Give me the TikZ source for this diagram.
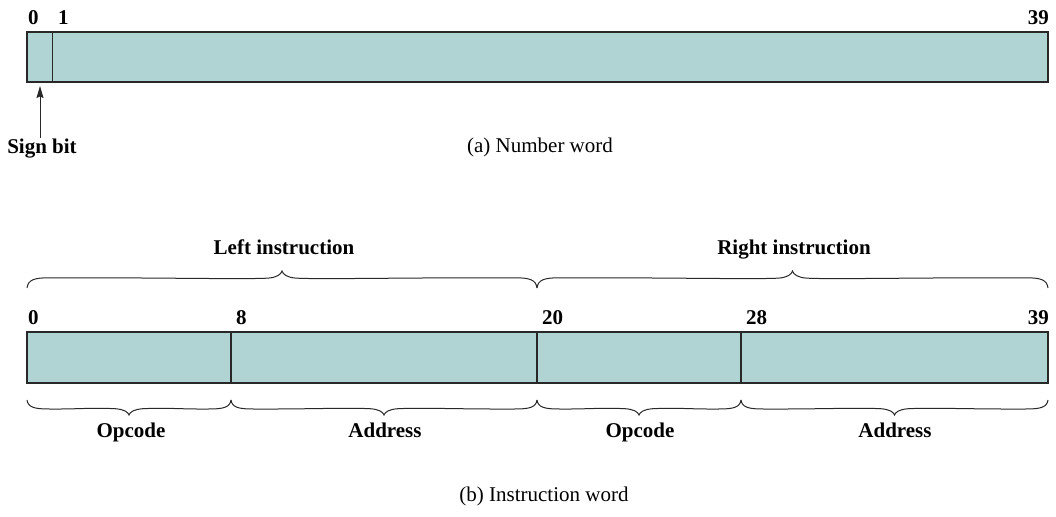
\documentclass[tikz,border=0pt]{standalone}
\usepackage{fontspec}
\setmainfont{Liberation Serif}
\usetikzlibrary{arrows.meta}
\definecolor{barfill}{RGB}{176,212,211}
\definecolor{linecol}{RGB}{40,40,40}
\newcommand\drawmybrace[4]{%
  \pgfmathsetmacro\bxm{(#1+#2)/2}%
  \pgfmathsetmacro\bqa{(#1+\bxm)/2}%
  \pgfmathsetmacro\bqb{(\bxm+#2)/2}%
  \pgfmathsetmacro\byl{#3+0.55*#4}%
  \pgfmathsetmacro\byt{#3+#4}%
  \draw[bracestyle] (#1,#3) .. controls (#1+1,#3+0.5*#4) and (#1+8,#3+0.6*#4) .. (#1+22,#3+0.6*#4)
    .. controls (\bqa,#3+0.62*#4) and (\bxm-40,#3+0.5*#4) .. (\bxm-14,#3+0.58*#4)
    .. controls (\bxm-5,#3+0.62*#4) and (\bxm-1,#3+0.8*#4) .. (\bxm,\byt)
    .. controls (\bxm+1,#3+0.8*#4) and (\bxm+5,#3+0.62*#4) .. (\bxm+14,#3+0.58*#4)
    .. controls (\bxm+40,#3+0.5*#4) and (\bqb,#3+0.62*#4) .. (#2-22,#3+0.6*#4)
    .. controls (#2-8,#3+0.6*#4) and (#2-1,#3+0.5*#4) .. (#2,#3);
}
\begin{document}
\begin{tikzpicture}[x=1pt,y=1pt,
  bar/.style={draw=linecol,fill=barfill,line width=1.1pt},
  divider/.style={draw=linecol,line width=1.1pt},
  bracestyle/.style={draw=linecol,line width=1pt},
  bitnum/.style={font=\fontsize{21}{25}\selectfont\bfseries,inner sep=0pt},
  boldlabel/.style={font=\fontsize{21}{25}\selectfont\bfseries,inner sep=0pt,anchor=base},
  caption/.style={font=\fontsize{21}{25}\selectfont,inner sep=0pt,anchor=base},
  arrowline/.style={draw=linecol,line width=1pt,-{Stealth[length=12pt,width=7pt,inset=1.5pt]}}
]
\useasboundingbox (0,0) rectangle (1056,516);

% (a) Number word
\path[bar] (27,434) rectangle (1048,484);
\coordinate (d1t) at (52.5,484);
\coordinate (d1b) at (52.5,434);
\draw[divider] (d1t) -- (d1b);
\node[bitnum,anchor=base west] (na0) at (28,491) {0};
\node[bitnum,anchor=base west] (na1) at (58,491) {1};
\node[bitnum,anchor=base east] (na39) at (1049,491) {39};
\coordinate (sbtip) at (40,430);
\node[boldlabel,inner sep=1.5pt] (signbit) at (42,362) {Sign bit};
\draw[arrowline] (signbit.north -| sbtip) -- (sbtip);
\node[caption] (capa) at (540,363) {(a) Number word};

% (b) Instruction word
\path[bar] (27,133) rectangle (1048,184);
\foreach \x/\n in {231/d8,537/d20,741/d28}{
  \coordinate (\n t) at (\x,184);
  \coordinate (\n b) at (\x,133);
  \draw[divider] (\n t) -- (\n b);
}
\node[bitnum,anchor=base west] (nb0) at (28,191) {0};
\node[bitnum,anchor=base west] (nb8) at (236,191) {8};
\node[bitnum,anchor=base west] (nb20) at (542,191) {20};
\node[bitnum,anchor=base west] (nb28) at (746,191) {28};
\node[bitnum,anchor=base east] (nb39) at (1049,191) {39};

% top braces
\drawmybrace{27}{537}{228}{17}
\drawmybrace{537}{1048}{228}{17}
\node[boldlabel] (leftins) at (284,261) {Left instruction};
\node[boldlabel] (rightins) at (794,261) {Right instruction};

% bottom braces
\drawmybrace{27}{231}{116}{-15}
\drawmybrace{231}{537}{116}{-15}
\drawmybrace{537}{741}{116}{-15}
\drawmybrace{741}{1048}{116}{-15}
\node[boldlabel] (op1) at (131,78) {Opcode};
\node[boldlabel] (ad1) at (385,78) {Address};
\node[boldlabel] (op2) at (640,78) {Opcode};
\node[boldlabel] (ad2) at (895,78) {Address};

\node[caption] (capb) at (544,15) {(b) Instruction word};
\end{tikzpicture}
\end{document}
